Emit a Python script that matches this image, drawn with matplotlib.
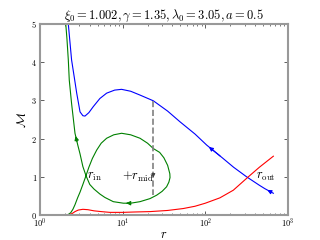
import math
import matplotlib
matplotlib.use('Agg')
import matplotlib.pyplot as plt
from matplotlib.ticker import FuncFormatter, LogLocator

plt.rcParams['mathtext.fontset'] = 'cm'
plt.rcParams['font.family'] = 'serif'
plt.rcParams['font.serif'] = ['DejaVu Serif']

title = r'$\xi_0 = 1.002, \gamma = 1.35, \lambda_0 = 3.05, a = 0.5$'

# blue branch (r, M)
r_blue = [2.15, 2.2, 2.41, 2.6, 2.78, 3.05, 3.3, 3.5, 3.9, 4.42, 5.3, 6.4, 8.0,
          9.7, 12.5, 16.2, 23.5, 35, 49.4, 75, 104, 160, 220, 316, 450, 525, 665]
M_blue = [5.25, 5.0, 4.06, 3.6, 3.19, 2.70, 2.60, 2.59, 2.68, 2.84, 3.05, 3.19, 3.27,
          3.29, 3.24, 3.14, 2.99, 2.72, 2.44, 2.12, 1.83, 1.5, 1.25, 1.0, 0.78, 0.69, 0.57]

# green branch, in order of traversal
r_green = [2.15, 2.35, 2.5, 2.65, 2.85, 3.05, 3.3, 3.6, 3.9, 4.3, 4.85, 5.5, 6.4, 7.8,
           9.7, 12.5, 16.2, 20, 23.5, 28, 31.5, 35, 37.2, 37.4, 36.2, 34, 30, 25.8,
           21.4, 16.2, 12.5, 10.2, 7.7, 6.1, 5.3, 4.5, 4.0, 3.6, 3.3, 3.05, 2.85,
           2.65, 2.41, 2.26, 2.2, 2.12, 2.05, 2.02]
M_green = [0.0, 0.06, 0.15, 0.27, 0.45, 0.6, 0.8, 1.03, 1.25, 1.48, 1.7, 1.88, 2.01, 2.1,
           2.14, 2.1, 2.01, 1.88, 1.74, 1.64, 1.5, 1.3, 1.08, 0.98, 0.86, 0.74, 0.62, 0.52,
           0.43, 0.35, 0.31, 0.31, 0.35, 0.46, 0.55, 0.68, 0.8, 1.03, 1.27, 1.6, 1.85,
           2.14, 2.92, 3.53, 4.06, 4.6, 5.0, 5.3]

# red branch
r_red = [2.2, 2.45, 2.65, 2.9, 3.3, 3.8, 4.5, 5.5, 7.0, 10, 14, 21.4, 35, 54, 75, 100,
         150, 218, 331, 450, 665]
M_red = [0.0, 0.04, 0.09, 0.13, 0.15, 0.14, 0.11, 0.09, 0.07, 0.07, 0.08, 0.09, 0.12,
         0.17, 0.23, 0.31, 0.45, 0.65, 1.0, 1.25, 1.54]

# dashed jump
r_jump = 23.5
M_jump = [2.99, 0.52]

fig = plt.figure(figsize=(3.2, 2.4), dpi=100)
ax = fig.add_axes([0.125, 0.104, 0.775, 0.796])

green = 'g'
ax.plot(r_blue, M_blue, color='blue', lw=0.8)
ax.plot(r_green, M_green, color=green, lw=0.8)
ax.plot(r_red, M_red, color='red', lw=0.8)
ax.plot([r_jump, r_jump], M_jump, color='gray', lw=1.2, ls='--')


def arrow(r, M, i_tail, i_head, color):
    ax.annotate('', xy=(r[i_head], M[i_head]), xytext=(r[i_tail], M[i_tail]),
                arrowprops=dict(arrowstyle='-|>', color=color, lw=0.8,
                                mutation_scale=6))


arrow(r_blue, M_blue, 21, 20, 'blue')
arrow(r_blue, M_blue, 26, 25, 'blue')
arrow(r_green, M_green, 40, 41, green)
arrow(r_green, M_green, 30, 31, green)
ax.annotate('', xy=(r_jump, 0.98), xytext=(r_jump, 1.12),
            arrowprops=dict(arrowstyle='-|>', color='#444444', lw=0.8,
                            mutation_scale=5))

ax.text(3.75, 1.0, r'$r_{\rm in}$', fontsize=9, va='center', ha='left')
ax.text(9.8, 1.0, r'$+r_{\rm mid}$', fontsize=9, va='center', ha='left')
ax.text(410, 1.0, r'$r_{\rm out}$', fontsize=9, va='center', ha='left')

ax.set_xscale('log')
ax.set_xlim(1, 1000)
ax.set_ylim(0, 5)
ax.set_yticks([0, 1, 2, 3, 4, 5])
ax.xaxis.set_major_locator(LogLocator(base=10))
ax.xaxis.set_major_formatter(FuncFormatter(lambda v, p: r'$10^{%d}$' % round(math.log10(v))))
ax.yaxis.set_major_formatter(FuncFormatter(lambda v, p: r'$%d$' % v))

ax.tick_params(which='both', direction='in', top=True, right=True,
               labelsize=6, color='#444444')
ax.tick_params(axis='x', pad=1)
ax.tick_params(axis='y', pad=2)
ax.tick_params(which='major', length=3, width=0.6)
ax.tick_params(which='minor', length=1.5, width=0.5)
for s in ax.spines.values():
    s.set_color('#999999')
    s.set_linewidth(1.5)

ax.set_xlabel(r'$r$', fontsize=9, labelpad=-1)
ax.set_ylabel(r'$\mathcal{M}$', fontsize=9, labelpad=2)
ax.set_title(title, fontsize=9, pad=2)

fig.savefig('out.png', dpi=100)
